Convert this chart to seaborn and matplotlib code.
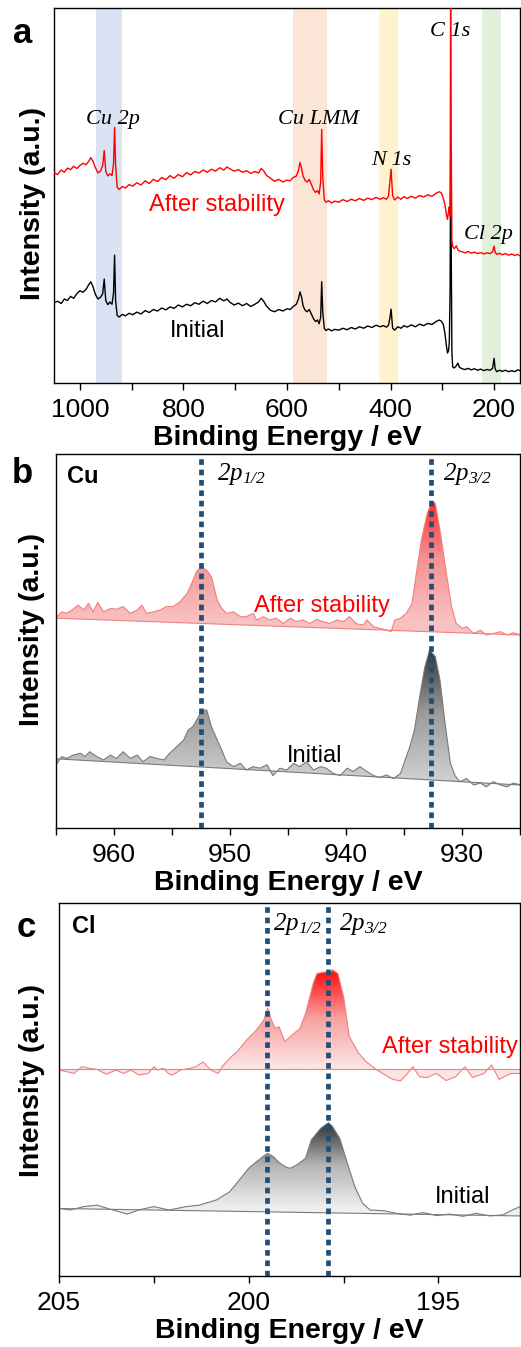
import numpy as np
import matplotlib
matplotlib.use('Agg')
import matplotlib.pyplot as plt
import seaborn as sns
from matplotlib.colors import LinearSegmentedColormap
from matplotlib.ticker import MultipleLocator

# ---- panel a: survey spectra (binding energy in eV, intensity in arb. units) ----
survey_be = [1050, 1043, 1036, 1030, 1024, 1018, 1012, 1006, 1000, 994,
             988, 983, 979, 975, 970, 965, 960, 956, 953, 950,
             946, 942, 938, 935, 933, 931, 928, 924, 918, 912,
             905, 898, 890, 882, 874, 866, 858, 850, 842, 834,
             826, 818, 810, 802, 794, 786, 778, 770, 762, 754,
             746, 738, 730, 722, 716, 710, 702, 694, 686, 678,
             670, 662, 655, 650, 645, 640, 632, 624, 616, 608,
             600, 594, 588, 582, 578, 575, 572, 569, 565, 561,
             557, 553, 549, 545, 541, 538, 535, 533, 531, 528,
             525, 520, 514, 508, 500, 492, 484, 476, 468, 460,
             452, 444, 436, 428, 420, 414, 408, 404, 401, 399,
             396, 392, 386, 380, 374, 368, 360, 352, 344, 336,
             328, 320, 312, 306, 302, 298, 295, 292, 290, 288,
             286.5, 285, 284, 283, 281.5, 280, 277, 273, 270, 267,
             262, 256, 250, 244, 238, 232, 226, 220, 214, 208,
             203, 200, 198, 195, 190, 184, 178, 172, 166, 160,
             155, 150]
survey_after = [56.1, 55.6, 56.8, 56.2, 57.3, 56.9, 57.8, 57.2, 58.0, 58.6,
                58.2, 59.1, 60.1, 59.2, 57.4, 56.0, 56.6, 58.0, 62.0, 56.4,
                55.2, 55.8, 55.3, 58.5, 68.2, 58.0, 52.2, 51.6, 52.4, 52.0,
                52.9, 52.5, 53.4, 52.8, 53.9, 53.2, 54.3, 53.7, 54.8, 54.2,
                55.3, 54.6, 55.6, 55.0, 56.1, 55.5, 56.4, 56.0, 56.8, 56.2,
                57.0, 56.5, 57.4, 56.8, 57.6, 57.1, 56.5, 56.9, 56.2, 56.6,
                55.9, 56.4, 56.0, 57.2, 56.6, 55.4, 54.6, 53.8, 54.3, 53.6,
                54.1, 53.9, 54.8, 55.2, 56.6, 58.8, 57.4, 55.2, 54.0, 53.6,
                54.3, 53.0, 51.6, 50.8, 51.3, 50.4, 53.5, 67.6, 55.0, 49.0,
                48.2, 48.6, 48.0, 48.5, 48.2, 48.9, 48.4, 49.0, 48.6, 49.2,
                48.7, 49.3, 48.9, 49.5, 49.0, 49.4, 49.0, 49.8, 54.0, 57.0,
                50.0, 48.8, 49.6, 49.0, 49.7, 49.2, 49.8, 49.3, 50.0, 49.6,
                50.2, 49.8, 50.6, 51.0, 50.7, 49.2, 47.5, 44.8, 43.6, 46.0,
                47.0, 44.5, 101.0, 70.0, 38.0, 36.4, 35.8, 36.6, 35.5, 35.2,
                35.0, 34.7, 35.1, 34.6, 34.9, 34.5, 34.8, 34.4, 34.7, 34.5,
                35.0, 36.5, 34.9, 34.3, 34.6, 34.2, 34.5, 34.1, 34.4, 34.0,
                34.3, 33.9]
survey_initial = [21.4, 21.8, 21.2, 22.4, 22.0, 23.1, 22.6, 23.8, 24.6, 24.2,
                  25.0, 26.2, 27.0, 25.8, 23.6, 22.4, 22.9, 23.8, 27.7, 22.0,
                  20.9, 21.6, 21.0, 24.0, 34.1, 22.0, 18.0, 17.6, 18.3, 17.9,
                  18.6, 18.2, 18.9, 18.4, 19.3, 18.8, 19.6, 19.2, 20.0, 19.5,
                  20.3, 19.9, 20.8, 20.3, 21.0, 20.6, 21.4, 21.0, 21.8, 21.2,
                  22.0, 21.6, 22.6, 21.9, 22.4, 21.5, 20.8, 21.3, 20.6, 21.2,
                  20.4, 21.0, 21.6, 22.6, 21.8, 20.6, 19.4, 19.0, 19.6, 19.2,
                  19.8, 19.6, 20.4, 21.0, 22.4, 24.3, 23.0, 20.6, 19.4, 19.0,
                  19.6, 18.4, 17.2, 16.4, 16.8, 15.8, 17.5, 27.0, 19.0, 14.6,
                  14.0, 14.4, 13.9, 14.3, 14.1, 14.6, 14.2, 14.8, 14.4, 15.0,
                  14.6, 15.2, 14.8, 15.4, 15.0, 15.3, 14.9, 15.4, 17.5, 19.7,
                  14.6, 14.1, 15.0, 14.6, 15.3, 14.9, 15.5, 15.0, 15.7, 15.3,
                  15.9, 15.6, 16.4, 16.8, 16.5, 15.6, 13.2, 9.8, 8.0, 8.6,
                  11.0, 25.0, 59.6, 40.0, 8.0, 4.3, 4.0, 4.6, 5.3, 4.2,
                  3.8, 3.6, 3.9, 3.5, 3.8, 3.4, 3.7, 3.3, 3.6, 3.4,
                  3.9, 6.6, 3.8, 3.0, 3.4, 3.1, 3.4, 3.0, 3.3, 3.0,
                  3.5, 3.3]

# highlighted regions (eV) and their colours
bands = [(968, 918), (588, 523), (422, 385), (224, 186)]
band_colors = ['#dae3f3', '#fbe5d6', '#fff2cc', '#e2efda']
peak_names = ['Cu 2p', 'Cu LMM', 'N 1s', 'C 1s', 'Cl 2p']
peak_pos = [(936, 69.1), (540, 69.1), (398, 58.1), (284, 92.4), (210, 38.4)]

# ---- panel b: Cu 2p ----
cu_after_be = [964.9, 964.5, 964.1, 963.6, 963.1, 962.6, 962.2, 961.8, 961.4, 960.9,
               960.3, 959.8, 959.2, 958.6, 958.0, 957.6, 957.2, 956.6, 956.0, 955.5,
               954.9, 954.3, 953.7, 953.3, 952.9, 952.5, 952.0, 951.6, 951.1, 950.7,
               950.3, 949.7, 949.1, 948.6, 948.0, 947.7, 947.1, 946.6, 946.0, 945.4,
               944.8, 944.3, 943.7, 943.1, 942.5, 942.0, 941.4, 940.8, 940.2, 939.7,
               939.1, 938.5, 938.2, 937.6, 937.1, 936.5, 936.1, 935.8, 935.3, 934.8,
               934.3, 933.9, 933.5, 933.0, 932.6, 932.3, 931.9, 931.3, 930.9, 930.5,
               930.0, 929.6, 929.0, 928.4, 927.9, 927.3, 926.7, 926.1, 925.6, 924.9]
cu_after_int = [56.5, 57.8, 57.4, 58.3, 59.6, 58.3, 60.1, 57.8, 60.3, 57.8,
                58.7, 58.5, 59.2, 57.4, 58.3, 59.6, 57.4, 57.8, 58.3, 59.2,
                59.2, 60.5, 62.7, 65.4, 68.5, 69.8, 68.9, 67.2, 60.9, 58.7,
                57.4, 57.8, 56.5, 56.5, 57.4, 55.6, 56.5, 55.6, 56.1, 54.7,
                56.1, 55.2, 55.6, 54.7, 55.8, 55.2, 54.7, 55.6, 55.2, 56.5,
                54.6, 54.3, 55.6, 53.8, 53.4, 52.9, 52.5, 55.6, 56.1, 57.4,
                60.1, 68.9, 77.0, 84.1, 87.3, 86.8, 79.7, 67.2, 59.2, 54.7,
                53.4, 53.8, 52.0, 52.9, 51.6, 52.0, 52.5, 51.6, 52.2, 51.6]
cu_init_be = [964.9, 964.5, 964.1, 963.5, 962.9, 962.5, 962.1, 961.5, 960.9, 960.3,
              959.8, 959.2, 958.6, 958.0, 957.5, 956.9, 956.3, 955.7, 955.2, 954.6,
              954.0, 953.6, 953.2, 952.7, 952.4, 952.0, 951.6, 951.1, 950.7, 950.3,
              949.7, 949.1, 948.6, 948.0, 947.4, 946.8, 946.3, 945.7, 945.1, 944.5,
              944.0, 943.4, 942.8, 942.2, 941.7, 941.1, 940.5, 939.9, 939.4, 938.8,
              938.2, 937.6, 937.1, 936.5, 935.9, 935.3, 934.9, 934.5, 934.1, 933.6,
              933.2, 932.8, 932.3, 931.9, 931.5, 931.0, 930.6, 930.2, 929.6, 929.0,
              928.4, 927.9, 927.3, 926.7, 926.1, 925.6, 924.9]
cu_init_int = [17.3, 19.1, 18.6, 19.5, 20.0, 19.1, 20.4, 19.1, 18.2, 19.5,
               18.6, 20.4, 18.6, 19.5, 17.7, 19.1, 18.6, 18.2, 20.0, 21.7,
               23.5, 26.2, 27.1, 29.8, 31.5, 31.5, 27.1, 23.5, 20.8, 17.7,
               16.4, 17.3, 15.5, 16.4, 16.0, 16.9, 14.0, 16.0, 15.5, 17.3,
               16.4, 17.7, 15.5, 16.4, 16.0, 14.6, 14.0, 16.0, 15.1, 16.4,
               15.1, 14.0, 13.5, 14.2, 13.2, 14.6, 18.2, 21.7, 26.2, 36.0,
               43.1, 47.6, 45.8, 39.6, 29.0, 17.3, 14.0, 12.4, 13.2, 11.5,
               12.0, 11.0, 12.4, 11.5, 11.0, 12.0, 11.5]
cu_bg_be = [965, 925]
cu_after_bg = [56.1, 51.6]
cu_init_bg = [18.5, 11.5]
cu_lines = [952.5, 932.7]

# ---- panel c: Cl 2p ----
cl_after_be = [205.0, 204.8, 204.6, 204.4, 204.2, 204.0, 203.75, 203.5, 203.3, 203.1,
               202.9, 202.65, 202.5, 202.4, 202.25, 202.1, 202.0, 201.8, 201.55, 201.4,
               201.2, 201.0, 200.8, 200.7, 200.5, 200.3, 200.05, 199.8, 199.6, 199.5,
               199.4, 199.3, 199.2, 199.05, 198.9, 198.65, 198.5, 198.3, 198.2, 198.0,
               197.85, 197.8, 197.65, 197.5, 197.35, 197.1, 196.9, 196.65, 196.4, 196.2,
               196.0, 195.85, 195.67, 195.5, 195.3, 195.05, 194.8, 194.55, 194.3, 194.1,
               193.8, 193.6, 193.4, 193.1, 192.85]
cl_after_int = [55.2, 54.8, 54.3, 56.1, 55.7, 55.4, 54.1, 55.2, 54.3, 55.2,
                53.9, 54.3, 56.1, 55.2, 55.7, 54.1, 53.9, 55.2, 55.7, 56.1,
                57.4, 55.2, 54.3, 56.1, 58.4, 60.2, 63.3, 65.9, 68.6, 71.8,
                68.6, 66.4, 66.8, 62.8, 64.2, 66.4, 70.4, 78.4, 81.1, 81.5,
                81.2, 82.1, 81.1, 74.9, 64.2, 59.7, 57.4, 55.4, 53.9, 52.7,
                52.3, 53.9, 56.1, 53.4, 53.2, 54.3, 52.4, 53.4, 56.1, 53.2,
                54.3, 56.6, 52.7, 54.3, 54.3]
cl_init_be = [205.0, 204.7, 204.35, 204.0, 203.65, 203.2, 202.9, 202.5, 202.1, 201.65,
              201.3, 200.85, 200.5, 200.25, 200.0, 199.8, 199.6, 199.5, 199.35, 199.2,
              199.0, 198.9, 198.7, 198.5, 198.35, 198.1, 197.9, 197.8, 197.6, 197.4,
              197.2, 197.0, 196.8, 196.45, 196.1, 195.75, 195.4, 195.05, 194.7, 194.35,
              194.0, 193.65, 193.3, 193.05, 192.85]
cl_init_int = [18.1, 17.7, 18.6, 19.0, 17.9, 16.6, 17.7, 18.6, 17.7, 18.6,
               19.0, 20.4, 22.6, 25.7, 28.9, 30.6, 32.2, 32.9, 32.0, 30.4,
               29.1, 28.9, 30.0, 31.6, 36.5, 39.6, 41.1, 40.2, 36.9, 30.2,
               23.9, 19.5, 17.7, 17.5, 16.8, 16.3, 17.0, 16.2, 16.6, 16.0,
               16.8, 16.1, 16.4, 17.7, 18.6]
cl_bg_be = [205, 192.85]
cl_after_bg = [55.4, 55.4]
cl_init_bg = [18.1, 16.1]
cl_lines = [199.53, 197.92]

sns.set_theme(style='white')
plt.rcParams['font.family'] = ['Liberation Sans', 'DejaVu Sans']
plt.rcParams['text.color'] = 'black'
plt.rcParams['axes.labelcolor'] = 'black'
plt.rcParams['mathtext.fontset'] = 'custom'
plt.rcParams['mathtext.rm'] = 'Liberation Serif:italic'
plt.rcParams['mathtext.it'] = 'Liberation Serif:italic'

fig = plt.figure(figsize=(5.21, 13.47), dpi=100)
ax_a = fig.add_axes([54 / 521, 1 - 383 / 1347, 466 / 521, 375 / 1347])
ax_b = fig.add_axes([56 / 521, 1 - 828 / 1347, 464 / 521, 374 / 1347])
ax_c = fig.add_axes([59 / 521, 1 - 1276 / 1347, 461 / 521, 373 / 1347])


def gradient_fill(ax, x, y, bx, by, colors, c0, c1):
    x = np.asarray(x)
    y = np.asarray(y)
    base = np.interp(x[::-1], bx[::-1], by[::-1])[::-1]
    poly = ax.fill_between(x, y, base, facecolor='none', edgecolor='none', lw=0)
    lo = min(y.min(), base.min())
    hi = y.max()
    levels = np.clip((np.linspace(lo, hi, 256) - c0) / (c1 - c0), 0, 1).reshape(-1, 1)
    cmap = LinearSegmentedColormap.from_list('grad', colors)
    im = ax.imshow(levels, cmap=cmap, vmin=0, vmax=1, aspect='auto', origin='lower',
                   extent=[x.min(), x.max(), lo, hi], zorder=1, interpolation='bilinear')
    im.set_clip_path(poly.get_paths()[0], transform=ax.transData)


def style_axis(ax, xlim, major, minor, ylab_x, ylab_y):
    ax.set_xlim(*xlim)
    ax.set_ylim(0, 100)
    ax.xaxis.set_major_locator(MultipleLocator(major))
    ax.xaxis.set_minor_locator(MultipleLocator(minor))
    ax.tick_params(axis='x', which='both', bottom=True, direction='out', length=5,
                   width=1, color='black', labelsize=19, labelcolor='black', pad=6)
    ax.set_yticks([])
    for s in ax.spines.values():
        s.set_color('black')
        s.set_linewidth(1.0)
    ax.set_xlabel('Binding Energy / eV', fontsize=20.5, fontweight='bold',
                  color='black', labelpad=2)
    ax.set_ylabel('Intensity (a.u.)', fontsize=20.5, fontweight='bold',
                  color='black', va='center')
    ax.yaxis.set_label_coords(ylab_x, ylab_y)


# ---- panel a ----
for (hi_e, lo_e), col in zip(bands, band_colors):
    ax_a.axvspan(lo_e, hi_e, color=col, lw=0, zorder=0)
sns.lineplot(x=survey_be, y=survey_after, ax=ax_a, color='#ff0000', lw=1.0,
             estimator=None, sort=False, zorder=3)
sns.lineplot(x=survey_be, y=survey_initial, ax=ax_a, color='black', lw=1.0,
             estimator=None, sort=False, zorder=2)
for name, (px, py) in zip(peak_names, peak_pos):
    ax_a.text(px, py, name, family='Liberation Serif', style='italic', fontsize=16,
              color='black', ha='center', va='baseline', zorder=4)
ax_a.text(736, 45.9, 'After stability', color='#ff0000', fontsize=17, ha='center', va='baseline')
ax_a.text(772, 12.3, 'Initial', color='black', fontsize=17, ha='center', va='baseline')
style_axis(ax_a, (1050, 150), 200, 100, -0.046, 0.48)

# ---- panel b ----
gradient_fill(ax_b, cu_after_be, cu_after_int, cu_bg_be, cu_after_bg,
              ['#f9c2c2', '#f59090', '#ff1a1a'], 55, 90)
gradient_fill(ax_b, cu_init_be, cu_init_int, cu_bg_be, cu_init_bg,
              ['#cdcdcd', '#9a9a9a', '#333333'], 14, 48)
sns.lineplot(x=cu_after_be, y=cu_after_int, ax=ax_b, color='#f08080', lw=0.8,
             estimator=None, sort=False, zorder=2)
sns.lineplot(x=cu_init_be, y=cu_init_int, ax=ax_b, color='#7a7a7a', lw=0.8,
             estimator=None, sort=False, zorder=2)
sns.lineplot(x=cu_bg_be, y=cu_after_bg, ax=ax_b, color='#f08080', lw=0.8,
             estimator=None, sort=False, zorder=2)
sns.lineplot(x=cu_bg_be, y=cu_init_bg, ax=ax_b, color='#7a7a7a', lw=0.8,
             estimator=None, sort=False, zorder=2)
for e in cu_lines:
    ax_b.axvline(e, color='#1f4e79', lw=3.4, ls=(0, (1.2, 1.0)), zorder=3)
ax_b.text(951.1, 93.0, r'$2p_{1/2}$', fontsize=18, color='black', ha='left', va='baseline')
ax_b.text(931.6, 93.0, r'$2p_{3/2}$', fontsize=18, color='black', ha='left', va='baseline')
ax_b.text(0.024, 0.922, 'Cu', transform=ax_b.transAxes, fontsize=17,
          fontweight='bold', color='black', va='baseline')
ax_b.text(942.1, 57.8, 'After stability', color='#ff0000', fontsize=17, ha='center', va='baseline')
ax_b.text(942.7, 17.7, 'Initial', color='black', fontsize=17, ha='center', va='baseline')
style_axis(ax_b, (965, 925), 10, 5, -0.052, 0.53)

# ---- panel c ----
gradient_fill(ax_c, cl_after_be, cl_after_int, cl_bg_be, cl_after_bg,
              ['#fde4e4', '#f8a0a0', '#ff0a0a'], 56, 82)
gradient_fill(ax_c, cl_init_be, cl_init_int, cl_bg_be, cl_init_bg,
              ['#efefef', '#b5b5b5', '#303030'], 18, 41)
sns.lineplot(x=cl_after_be, y=cl_after_int, ax=ax_c, color='#f08080', lw=0.8,
             estimator=None, sort=False, zorder=2)
sns.lineplot(x=cl_init_be, y=cl_init_int, ax=ax_c, color='#7a7a7a', lw=0.8,
             estimator=None, sort=False, zorder=2)
sns.lineplot(x=cl_bg_be, y=cl_after_bg, ax=ax_c, color='#f08080', lw=0.8,
             estimator=None, sort=False, zorder=2)
sns.lineplot(x=cl_bg_be, y=cl_init_bg, ax=ax_c, color='#7a7a7a', lw=0.8,
             estimator=None, sort=False, zorder=2)
for e in cl_lines:
    ax_c.axvline(e, color='#1f4e79', lw=3.4, ls=(0, (1.2, 1.0)), zorder=3)
ax_c.text(199.36, 92.8, r'$2p_{1/2}$', fontsize=18, color='black', ha='left', va='baseline')
ax_c.text(197.62, 92.8, r'$2p_{3/2}$', fontsize=18, color='black', ha='left', va='baseline')
ax_c.text(0.028, 0.92, 'Cl', transform=ax_c.transAxes, fontsize=17,
          fontweight='bold', color='black', va='baseline')
ax_c.text(194.7, 59.7, 'After stability', color='#ff0000', fontsize=17, ha='center', va='baseline')
ax_c.text(194.36, 19.7, 'Initial', color='black', fontsize=17, ha='center', va='baseline')
style_axis(ax_c, (205, 192.85), 5, 2.5, -0.059, 0.525)

# panel letters
fig.text(22.5 / 521, 1 - 43 / 1347, 'a', fontsize=25, fontweight='bold', color='black',
         ha='center', va='baseline')
fig.text(22.5 / 521, 1 - 483 / 1347, 'b', fontsize=25, fontweight='bold', color='black',
         ha='center', va='baseline')
fig.text(26 / 521, 1 - 937 / 1347, 'c', fontsize=25, fontweight='bold', color='black',
         ha='center', va='baseline')

fig.savefig('out.png', dpi=100)
